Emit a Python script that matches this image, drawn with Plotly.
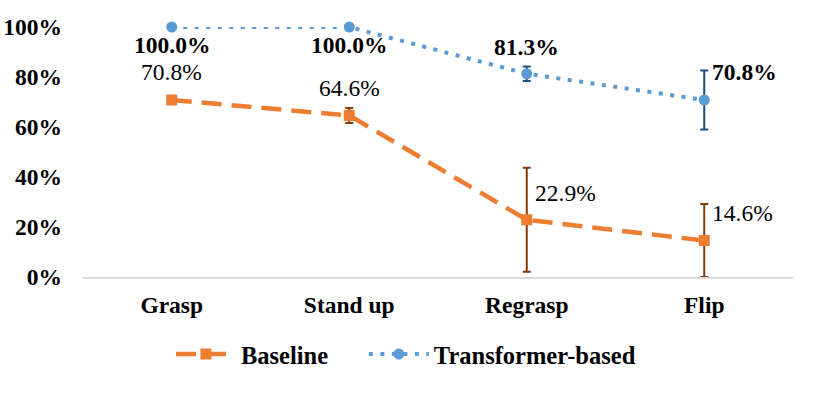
import plotly.graph_objects as go

tasks = ["Grasp", "Stand up", "Regrasp", "Flip"]
baseline = [70.8, 64.6, 22.9, 14.6]
baseline_err = [0.0, 3.0, 20.8, 14.6]
transformer = [100.0, 100.0, 81.3, 70.8]
transformer_err = [0.0, 0.0, 2.9, 11.8]
y_ticks = [0, 20, 40, 60, 80, 100]
y_tick_labels = ["0%", "20%", "40%", "60%", "80%", "100%"]

FONT = "Liberation Serif"
ORANGE = "#ED7D31"
BLUE = "#5B9BD5"
FS = 23.5

fig = go.Figure()
fig.add_trace(go.Scatter(
    x=tasks, y=baseline, name="Baseline", mode="lines+markers",
    line=dict(color=ORANGE, width=4.5, dash="20px,10px"),
    marker=dict(symbol="square", size=11, color=ORANGE),
    error_y=dict(type="data", array=baseline_err, color="#843C0C", thickness=2, width=4),
    cliponaxis=False, legend="legend",
))
fig.add_trace(go.Scatter(
    x=tasks, y=transformer, name="Transformer-based", mode="lines+markers",
    line=dict(color=BLUE, width=4, dash="4px,7.5px"),
    marker=dict(symbol="circle", size=11, color=BLUE),
    error_y=dict(type="data", array=transformer_err, color="#1F4E79", thickness=2, width=4),
    cliponaxis=False, legend="legend2",
))

# data labels: (xanchor, yshift) per point
base_pos = [("center", 28), ("center", 28), ("left", 27), ("left", 28)]
trans_pos = [("center", -18), ("center", -18), ("center", 27), ("left", 28)]
for i, t in enumerate(tasks):
    xa, ys = base_pos[i]
    fig.add_annotation(x=t, y=baseline[i], text=f"{baseline[i]:.1f}%", showarrow=False,
                       xanchor=xa, yanchor="middle", xshift=6 if xa == "left" else 0, yshift=ys,
                       font=dict(family=FONT, size=FS, color="black"))
    xa, ys = trans_pos[i]
    fig.add_annotation(x=t, y=transformer[i], text=f"{transformer[i]:.1f}%", showarrow=False,
                       xanchor=xa, yanchor="middle", xshift=6 if xa == "left" else 0, yshift=ys,
                       font=dict(family=FONT, size=FS, color="black", weight="bold"))

legend_style = dict(orientation="h", xref="container", xanchor="left",
                    yref="container", y=0.099, yanchor="middle",
                    font=dict(family=FONT, size=24.5, color="black", weight="bold"),
                    itemwidth=60)

fig.update_layout(
    width=814, height=393,
    margin=dict(l=83, r=21, t=27, b=115.5),
    paper_bgcolor="white", plot_bgcolor="white",
    font=dict(family=FONT, size=FS, color="black"),
    showlegend=True,
    legend=dict(x=0.21, **legend_style),
    legend2=dict(x=0.447, **legend_style),
    xaxis=dict(type="category", range=[-0.5, 3.5], showgrid=False, zeroline=False,
               showline=True, linecolor="#D9D9D9", linewidth=2, ticks="",
               tickfont=dict(family=FONT, size=FS, color="black", weight="bold"),
               ticklabelstandoff=6, automargin=False),
    yaxis=dict(range=[0, 100], tickvals=y_ticks, ticktext=y_tick_labels, showgrid=False,
               zeroline=False, showline=False, ticks="",
               tickfont=dict(family=FONT, size=FS, color="black", weight="bold"),
               ticklabelstandoff=20, automargin=False),
)

# drop the default 8px page margin so the chart sits at the window origin
fig.write_html("out.html", config={"displayModeBar": False},
               post_script="document.body.style.margin='0';")
